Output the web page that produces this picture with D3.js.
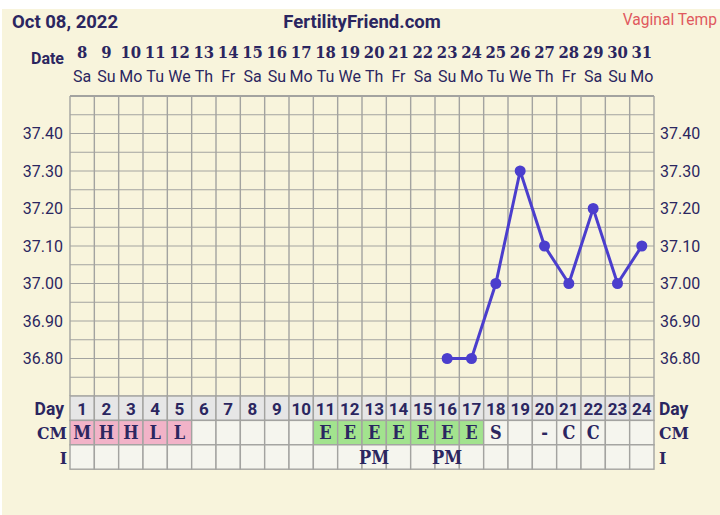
<!DOCTYPE html>
<html lang="en">
<head>
<meta charset="UTF-8">
<title>Fertility chart</title>
<script src="https://d3js.org/d3.v7.min.js"></script>
<style>
  body { margin: 0; background: #fff; }
  svg text { font-family: Roboto, sans-serif; fill: #2b2660; }
  .slab { font-family: "DejaVu Serif Condensed", "DejaVu Serif", serif; font-stretch: condensed; font-weight: bold; }
</style>
</head>
<body>
<div id="chart"></div>
<script>
// chart data
const dates = [8, 9, 10, 11, 12, 13, 14, 15, 16, 17, 18, 19, 20, 21, 22, 23, 24, 25, 26, 27, 28, 29, 30, 31];
const weekdays = ["Sa", "Su", "Mo", "Tu", "We", "Th", "Fr", "Sa", "Su", "Mo", "Tu", "We", "Th", "Fr", "Sa", "Su", "Mo", "Tu", "We", "Th", "Fr", "Sa", "Su", "Mo"];
const cycleDays = d3.range(1, 25);
const tempDays = [16, 17, 18, 19, 20, 21, 22, 23, 24];
const temps = [36.80, 36.80, 37.00, 37.30, 37.10, 37.00, 37.20, 37.00, 37.10];
const cm = ["M", "H", "H", "L", "L", "", "", "", "", "", "E", "E", "E", "E", "E", "E", "E", "S", "", "-", "C", "C", "", ""];
const intercourse = ["", "", "", "", "", "", "", "", "", "", "", "", "PM", "", "", "PM", "", "", "", "", "", "", "", ""];
const yTicks = [36.80, 36.90, 37.00, 37.10, 37.20, 37.30, 37.40];

const W = 720, H = 515;
const gLeft = 70, gRight = 654, gTop = 96, gBottom = 396;
const rowH = 24.4;

const svg = d3.select("#chart").append("svg").attr("width", W).attr("height", H);

svg.append("rect").attr("x", 2).attr("y", 9).attr("width", W - 2).attr("height", H - 9).attr("fill", "#f8f4dc");

const x = d3.scaleLinear().domain([0, 24]).range([gLeft, gRight]);
const y = d3.scaleLinear().domain([36.70, 37.50]).range([gBottom, gTop]);
const cw = x(1) - x(0);

// header
svg.append("text").attr("x", 12).attr("y", 28).attr("font-size", 18.5).attr("font-weight", "bold").text("Oct 08, 2022");
svg.append("text").attr("x", 362).attr("y", 28).attr("text-anchor", "middle").attr("font-size", 18.5).attr("font-weight", "bold").text("FertilityFriend.com");
svg.append("text").attr("x", 717).attr("y", 25).attr("text-anchor", "end").attr("font-size", 15.6).style("fill", "#e0595e").text("Vaginal Temp");

svg.append("text").attr("x", 64).attr("y", 64).attr("text-anchor", "end").attr("font-size", 16).attr("font-weight", "bold").text("Date");

svg.selectAll(".date").data(dates).join("text")
  .attr("class", "slab")
  .attr("x", (d, i) => x(i + 0.5)).attr("y", 58)
  .attr("text-anchor", "middle").attr("font-size", 16.5)
  .text(d => d);

svg.selectAll(".wd").data(weekdays).join("text")
  .attr("x", (d, i) => x(i + 0.5)).attr("y", 82)
  .attr("text-anchor", "middle").attr("font-size", 16)
  .text(d => d);

// temperature grid
const grid = svg.append("g");
grid.selectAll(".hl").data(d3.range(36.70, 37.501, 0.05)).join("line")
  .attr("x1", gLeft).attr("x2", gRight)
  .attr("y1", d => y(d)).attr("y2", d => y(d))
  .attr("stroke", "#a3a3a0").attr("stroke-width", 1.2);
grid.selectAll(".vl").data(d3.range(0, 25)).join("line")
  .attr("x1", d => x(d)).attr("x2", d => x(d))
  .attr("y1", gTop).attr("y2", gBottom)
  .attr("stroke", "#a3a3a0").attr("stroke-width", 1.4);
grid.append("line").attr("x1", gLeft).attr("x2", gRight).attr("y1", gTop).attr("y2", gTop)
  .attr("stroke", "#a3a3a0").attr("stroke-width", 2);

svg.selectAll(".yl").data(yTicks).join("text")
  .attr("x", 63).attr("y", d => y(d) + 5.5)
  .attr("text-anchor", "end").attr("font-size", 16)
  .text(d => d.toFixed(2));
svg.selectAll(".yr").data(yTicks).join("text")
  .attr("x", 660).attr("y", d => y(d) + 5.5)
  .attr("font-size", 16)
  .text(d => d.toFixed(2));

// temperature line
const pts = tempDays.map((d, i) => [x(d - 0.5), y(temps[i])]);
svg.append("path").attr("d", d3.line()(pts))
  .attr("fill", "none").attr("stroke", "#4b3ecd").attr("stroke-width", 3);
svg.selectAll(".pt").data(pts).join("circle")
  .attr("cx", d => d[0]).attr("cy", d => d[1]).attr("r", 5.5)
  .attr("fill", "#4b3ecd");

// bottom rows
const rows = [
  { label: "Day", vals: cycleDays, bg: () => "#e6e6e6", slab: false },
  { label: "CM", vals: cm, bg: v => v === "E" ? "#a2e38e" : ("MHL".includes(v) && v ? "#f2b3c8" : "#f5f5ee"), slab: true },
  { label: "I", vals: intercourse, bg: () => "#f5f5ee", slab: true }
];
rows.forEach((r, ri) => {
  const y0 = gBottom + ri * rowH;
  const g = svg.append("g");
  g.selectAll("rect").data(r.vals).join("rect")
    .attr("x", (d, i) => x(i)).attr("y", y0)
    .attr("width", cw).attr("height", rowH)
    .attr("fill", d => r.bg(d))
    .attr("stroke", "#a3a3a0").attr("stroke-width", 1.4);
  g.selectAll("text").data(r.vals).join("text")
    .attr("class", r.slab ? "slab" : null)
    .attr("x", (d, i) => x(i + 0.5)).attr("y", y0 + rowH / 2 + 6.5)
    .attr("text-anchor", "middle")
    .attr("font-size", r.slab ? 18 : 17)
    .attr("font-weight", "bold")
    .text(d => d);
  g.append("text").attr("x", r.label === "Day" ? 64 : 67).attr("y", y0 + rowH / 2 + 6.5)
    .attr("class", r.label === "Day" ? null : "slab")
    .attr("text-anchor", "end").attr("font-size", 17.5).attr("font-weight", "bold")
    .text(r.label);
  g.append("text").attr("x", 659).attr("y", y0 + rowH / 2 + 6.5)
    .attr("class", r.label === "Day" ? null : "slab")
    .attr("font-size", 17.5).attr("font-weight", "bold")
    .text(r.label);
});
</script>
</body>
</html>
